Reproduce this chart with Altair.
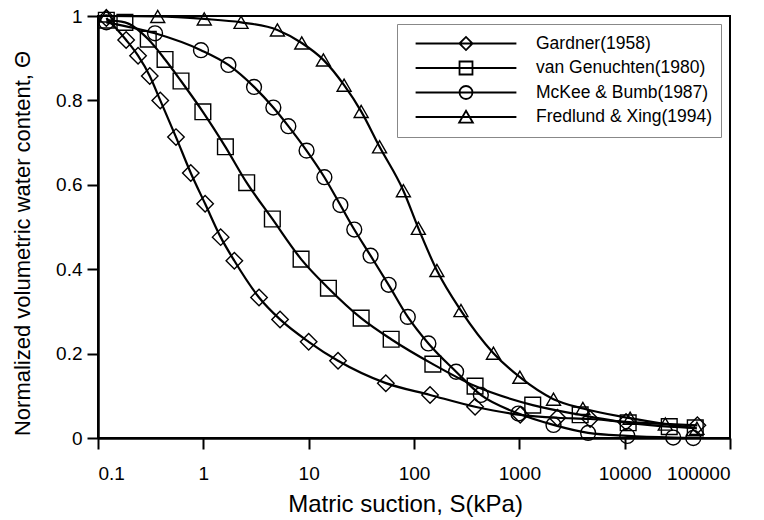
import altair as alt
import pandas as pd

series_names = ["Gardner(1958)", "van Genuchten(1980)", "McKee & Bumb(1987)", "Fredlund & Xing(1994)"]

gardner_s = [0.12, 0.185, 0.24, 0.31, 0.39, 0.55, 0.76, 1.04, 1.46, 1.97, 3.38, 5.35, 10, 19, 54, 142, 380, 1020, 2300, 4700, 10300, 49000]
gardner_theta = [0.995, 0.943, 0.906, 0.858, 0.80, 0.713, 0.628, 0.555, 0.476, 0.42, 0.333, 0.281, 0.228, 0.183, 0.13, 0.102, 0.074, 0.055, 0.048, 0.045, 0.038, 0.030]

vg_s = [0.12, 0.18, 0.30, 0.433, 0.614, 0.99, 1.62, 2.58, 4.52, 8.47, 15.4, 31.5, 60.7, 151, 380, 1340, 3780, 10800, 26500, 46800]
vg_theta = [0.99, 0.985, 0.945, 0.897, 0.846, 0.773, 0.69, 0.605, 0.519, 0.424, 0.355, 0.284, 0.234, 0.175, 0.123, 0.078, 0.055, 0.036, 0.027, 0.024]

mb_s = [0.12, 0.348, 0.95, 1.73, 3.03, 4.62, 6.41, 9.55, 14.1, 20, 27.1, 38.7, 57.4, 87.3, 137, 251, 431, 980, 2110, 4500, 10600, 28900, 44800]
mb_theta = [0.985, 0.959, 0.919, 0.884, 0.832, 0.783, 0.739, 0.681, 0.618, 0.552, 0.494, 0.432, 0.363, 0.287, 0.224, 0.157, 0.102, 0.058, 0.031, 0.012, 0.005, 0.001, 0.0]

fx_s = [0.12, 0.369, 1.02, 2.28, 5.05, 8.6, 13.8, 21.7, 31.5, 47.1, 79.3, 110, 165, 279, 568, 1012, 2110, 4010, 11270, 24300, 48500]
fx_theta = [1.0, 0.999, 0.993, 0.985, 0.967, 0.936, 0.896, 0.836, 0.774, 0.69, 0.586, 0.497, 0.397, 0.302, 0.201, 0.144, 0.092, 0.07, 0.047, 0.033, 0.023]

x_ticks = [0.1, 1, 10, 100, 1000, 10000, 100000]
y_ticks = [0, 0.2, 0.4, 0.6, 0.8, 1]

marker_shapes = ["diamond", "square", "circle", "triangle-up"]
marker_sizes = [272, 196, 210, 324]

# legend symbols: a line with a marker in the middle (unit path coords)
legend_paths = [
    "M-0.84,0L0.84,0M-0.11,0L0,-0.11L0.11,0L0,0.11Z",
    "M-0.84,0L0.84,0M-0.108,-0.108L0.108,-0.108L0.108,0.108L-0.108,0.108Z",
    "M-0.84,0L0.84,0M0.108,0A0.108,0.108,0,1,1,-0.108,0A0.108,0.108,0,1,1,0.108,0Z",
    "M-0.84,0L0.84,0M0,-0.105L0.115,0.095L-0.115,0.095Z",
]

rows = []
for name, xs, ys in zip(series_names,
                        [gardner_s, vg_s, mb_s, fx_s],
                        [gardner_theta, vg_theta, mb_theta, fx_theta]):
    for i, (a, b) in enumerate(zip(xs, ys)):
        rows.append({"series": name, "S": a, "theta": b, "i": i})
df = pd.DataFrame(rows)

x_enc = alt.X(
    "S:Q",
    scale=alt.Scale(type="log", domain=[0.1, 100000]),
    axis=alt.Axis(values=x_ticks, format="~g", title="Matric suction, S(kPa)",
                  labelPadding=15, titleX=307, titleY=73, titleBaseline="alphabetic",
                  titleAlign="center", titleFontSize=24),
)
y_enc = alt.Y(
    "theta:Q",
    scale=alt.Scale(domain=[0, 1]),
    axis=alt.Axis(values=y_ticks, format="~g", title="Normalized volumetric water content, Θ",
                  labelPadding=5, titleX=-69, titleY=227, titleBaseline="alphabetic",
                  titleAlign="center", titleAngle=-90, titleFontSize=22),
)

base = alt.Chart(df)

lines = base.mark_line(color="black", strokeWidth=2.2, interpolate="monotone").encode(
    x=x_enc, y=y_enc, detail="series:N", order="i:Q"
)

points = base.mark_point(filled=False, color="black", strokeWidth=1.4, opacity=1).encode(
    x=x_enc, y=y_enc,
    shape=alt.Shape("series:N", sort=series_names,
                    scale=alt.Scale(domain=series_names, range=marker_shapes), legend=None),
    size=alt.Size("series:N", sort=series_names,
                  scale=alt.Scale(domain=series_names, range=marker_sizes), legend=None),
)

legend_layer = base.mark_point(filled=False, color="black", strokeWidth=1.8, opacity=1).encode(
    x=x_enc, y=y_enc,
    size=alt.value(0),
    shape=alt.Shape(
        "series:N", sort=series_names,
        scale=alt.Scale(domain=series_names, range=legend_paths),
        legend=alt.Legend(
            title=None, orient="none", legendX=299, legendY=8,
            symbolSize=14400, symbolStrokeWidth=1.8, symbolStrokeColor="black",
            symbolFillColor="transparent",
            clipHeight=23, rowPadding=1.5, labelOffset=9, labelLimit=400,
            labelFont="Liberation Sans", labelFontSize=17.5, labelColor="black",
            padding=8, strokeColor="#888888", fillColor="white",
        ),
    ),
)

chart = alt.layer(lines, points, legend_layer).resolve_scale(
    shape="independent", size="independent"
).properties(
    width=632, height=422,
    autosize=alt.AutoSizeParams(type="none"),
    padding={"left": 98, "top": 16, "right": 34, "bottom": 82},
    background="white",
).configure_view(
    stroke="black", strokeWidth=2
).configure_axis(
    domainColor="black", domainWidth=2.5, tickColor="black", tickWidth=2, tickSize=11,
    labelColor="black", labelFont="Liberation Sans", labelFontSize=19,
    titleColor="black", titleFont="Liberation Sans", titleFontWeight="normal",
    grid=False,
)

chart.save("out.html", embed_options={"renderer": "svg", "actions": False})
